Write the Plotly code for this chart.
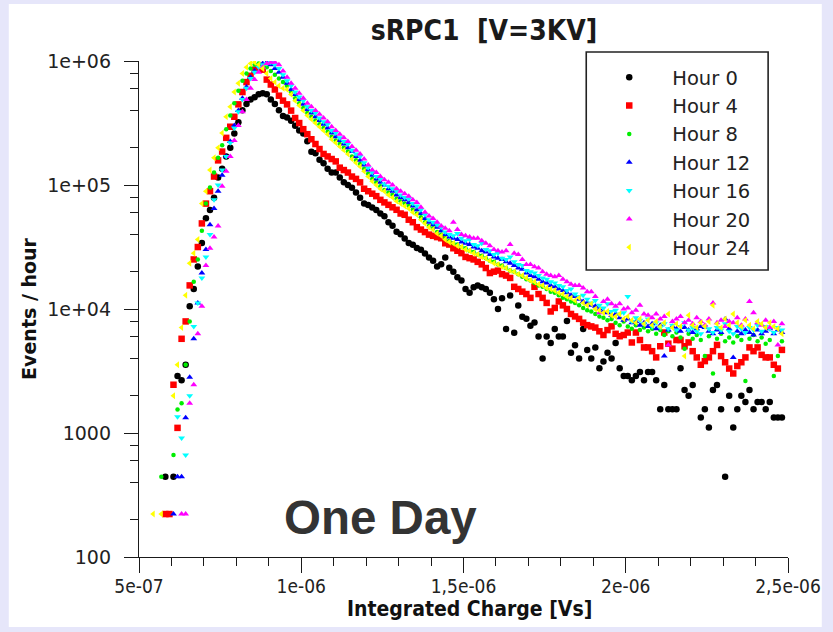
import plotly.graph_objects as go

# ---------------- data (histogram: 160 bins of 1.25e-8 Vs between 5e-7 and 2.5e-6) -------------
BIN_LOW = 5e-7
BIN_WIDTH = 1.25e-8
FIRST_BIN = 3   # first listed bin index

SERIES_NAMES = ["Hour 0", "Hour 4", "Hour 8", "Hour 12", "Hour 16", "Hour 20", "Hour 24"]

HOUR_0 = [
    None, None, None, 444, None, 444, 2886, 2664, 3552, 10500,
    14500, 22000, 34000, 54000, 63000, 79000, 115000, 135000, 170000, 200000,
    260000, 320000, 400000, 450000, 490000, 510000, 540000, 550000, 540000, 490000,
    450000, 400000, 360000, 350000, 330000, 300000, 275000, 260000, 225000, 185000,
    180000, 160000, 150000, 135000, 126000, 126000, 115000, 105000, 100000, 95000,
    87000, 79000, 71000, 69000, 66000, 63000, 59000, 56000, 50000, 47000,
    42000, 40000, 37000, 34000, 33000, 31000, 30000, 28000, 26000, 24500,
    22000, 23000, 26000, 21500, 20000, 18000, 17000, 14500, 13500, 15000,
    15500, 15000, 14500, 13500, 12000, 9990, 12210, 6882, 12876, 6438,
    10656, 8658, 8325, 7326, 7770, 5994, 3996, 5994, 5328, 6882,
    5994, 5994, 7992, 4440, 5106, 3996, 6882, 4662, 3996, 4884,
    3330, 3774, 4440, 3996, 5328, 3330, 2886, 2886, 2664, 2886,
    3108, 2664, 3108, 3108, 2664, 1554, 2442, 1554, 1554, 1554,
    3330, 2220, 1998, 2442, None, 1332, 1554, 1110, 2220, 2442,
    1554, 444, 1998, 1110, 1554, 1998, 1776, 2220, 1554, 1776,
    1776, 1554, 1776, 1332, 1332, 1332,
]

HOUR_4 = [
    None, None, None, 222, 222, 2450, 1100, 5750, 7940, 15500,
    25100, 31600, 49000, 70800, 89100, 117000, 158000, 186000, 240000, 295000,
    355000, 447000, 562000, 676000, 759000, 851000, 871000, 851000, 708000, 646000,
    589000, 525000, 479000, 447000, 398000, 347000, 316000, 282000, 257000, 234000,
    214000, 195000, 178000, 170000, 162000, 155000, 138000, 132000, 126000, 117000,
    112000, 105000, 93300, 89100, 85100, 81300, 75900, 72400, 69200, 66100,
    63100, 58900, 57500, 52500, 50100, 45700, 43700, 41700, 39800, 38900,
    38000, 37200, 33900, 33100, 30900, 29500, 28200, 26300, 25700, 25100,
    24000, 22900, 21400, 19500, 20000, 20400, 19100, 18600, 17800, 15100,
    14500, 13800, 13200, 12300, 15100, 13200, 12300, 11200, 9550, 10200,
    11500, 10700, 10000, 9120, 8710, 8320, 7760, 7410, 7240, 7080,
    6610, 6170, 6760, 7240, 6310, 6030, 6170, 6460, 5370, 6460,
    5620, 4900, 4900, 4570, 4070, 5010, 6460, 5250, 4790, 5620,
    5620, 5010, 5370, 4570, 4070, 3550, 3800, 4070, 4570, 5130,
    4170, 3720, 3310, 3020, 3470, 3720, 4070, 4900, 4570, 4900,
    4270, 4070, 4070, 3550, 3310, 4680,
]

HOUR_8 = [
    None, None, 444, None, None, 666, 1550, 1740, 3550, 7940,
    16600, 25100, 42700, 70800, 95500, 126000, 166000, 209000, 282000, 363000,
    457000, 575000, 692000, 794000, 871000, 933000, 955000, 933000, 891000, 832000,
    776000, 724000, 676000, 631000, 562000, 501000, 457000, 417000, 380000, 355000,
    331000, 309000, 288000, 269000, 245000, 229000, 214000, 200000, 186000, 170000,
    158000, 148000, 135000, 123000, 112000, 105000, 97700, 91200, 87100, 83200,
    77600, 74100, 70800, 67600, 63100, 58900, 55000, 50100, 46800, 44700,
    41700, 39800, 37200, 35500, 33900, 33100, 31600, 30900, 29500, 28800,
    27500, 26900, 25700, 24500, 24000, 22900, 22400, 21400, 20400, 20000,
    19100, 18200, 17400, 17000, 16200, 15500, 15100, 14500, 13800, 13500,
    12900, 12300, 12000, 11500, 11200, 10700, 10200, 9770, 9550, 9120,
    8710, 8510, 8130, 8320, 7760, 7410, 7940, 7240, 6920, 7410,
    6760, 7080, 6610, 6920, 6310, 6760, 6170, 6610, 6030, 6460,
    5890, 4790, 6310, 5750, 6170, 5620, 4170, 6030, 3020, 5750,
    6310, 5500, 5890, 5370, 6030, 5620, 2630, 5750, 6170, 5500,
    5890, 5250, 5620, 2880, 4170, 5500,
]

HOUR_12 = [
    None, None, None, None, None, 222, 444, 444, 1330, 2820,
    5750, 11200, 19500, 30200, 47900, 64600, 89100, 120000, 170000, 224000,
    302000, 398000, 501000, 617000, 741000, 832000, 912000, 955000, 977000, 933000,
    871000, 813000, 741000, 661000, 589000, 537000, 490000, 447000, 407000, 380000,
    355000, 331000, 309000, 288000, 263000, 245000, 229000, 214000, 200000, 186000,
    170000, 158000, 145000, 132000, 120000, 112000, 105000, 100000, 93300, 89100,
    83200, 79400, 75900, 72400, 67600, 63100, 58900, 53700, 50100, 47900,
    45700, 42700, 39800, 38000, 37200, 36300, 34700, 33900, 33100, 31600,
    30900, 29500, 28800, 27500, 26300, 25700, 25100, 24000, 23400, 22400,
    21400, 20900, 19500, 18600, 18200, 17400, 16600, 16200, 15500, 15100,
    14500, 14100, 13500, 12900, 12600, 12000, 11500, 11200, 10700, 10500,
    10000, 9550, 9330, 8910, 9120, 8510, 8130, 8320, 7760, 7940,
    7410, 7760, 7240, 7590, 6920, 7410, 4170, 6760, 7240, 6920,
    6610, 7080, 6760, 6460, 6920, 7240, 7080, 6610, 6310, 6760,
    6460, 8320, 6920, 4070, 6610, 6310, 6760, 6460, 6170, 6760,
    6310, 6610, 6920, 6310, 6760, 6460,
]

HOUR_16 = [
    None, None, None, None, None, None, 1350, 910, 666, 2000,
    7240, 11200, 17800, 26300, 39800, 75900, 100000, 132000, 170000, 219000,
    288000, 389000, 490000, 603000, 724000, 813000, 891000, 933000, 955000, 977000,
    933000, 871000, 776000, 692000, 631000, 562000, 513000, 479000, 427000, 398000,
    380000, 347000, 324000, 309000, 275000, 263000, 240000, 224000, 214000, 191000,
    178000, 170000, 151000, 138000, 126000, 117000, 112000, 102000, 97700, 93300,
    89100, 83200, 79400, 77600, 70800, 67600, 63100, 57500, 52500, 50100,
    47900, 45700, 41700, 39800, 38900, 40700, 37200, 35500, 36300, 33100,
    32400, 33900, 30200, 29500, 27500, 28200, 25700, 25100, 26300, 24000,
    22900, 22400, 20400, 20000, 19500, 18600, 17800, 17400, 16600, 16200,
    15500, 15100, 14100, 14500, 13200, 12600, 12900, 12000, 11200, 11700,
    10700, 10200, 11000, 9550, 9770, 9120, 9330, 12600, 7940, 8510,
    8130, 7590, 8320, 7240, 7760, 7080, 7590, 6920, 7410, 6760,
    7240, 7760, 6760, 7080, 6610, 6310, 7240, 6920, 6460, 7080,
    6760, 7590, 6610, 6310, 7240, 6920, 6460, 7080, 6760, 7410,
    6610, 7240, 6920, 6460, 7080, 6760,
]

HOUR_20 = [
    None, None, None, None, None, None, None, 222, 222, 1740,
    2450, 6310, 10500, 22400, 30900, 38000, 46800, 97700, 129000, 170000,
    229000, 302000, 389000, 490000, 603000, 708000, 813000, 891000, 955000, 977000,
    977000, 933000, 832000, 741000, 661000, 603000, 550000, 501000, 457000, 427000,
    398000, 372000, 347000, 324000, 295000, 275000, 257000, 240000, 224000, 204000,
    191000, 178000, 162000, 145000, 132000, 126000, 117000, 110000, 105000, 100000,
    93300, 89100, 85100, 81300, 75900, 72400, 66100, 60300, 56200, 53700,
    50100, 46800, 44700, 42700, 50100, 43700, 39800, 38900, 38000, 37200,
    37200, 35500, 33900, 32400, 30200, 29500, 28800, 29500, 33100, 28200,
    27500, 25100, 22900, 22900, 21900, 21400, 20000, 19100, 18600, 18200,
    18600, 17400, 16600, 15800, 15500, 15500, 14800, 13800, 13800, 12600,
    9330, 11500, 12000, 11000, 10500, 11000, 10000, 10200, 9330, 9770,
    10700, 9120, 8910, 8510, 9120, 8320, 8710, 5130, 7940, 8320,
    8710, 7760, 8130, 7590, 8510, 7940, 7410, 8320, 11200, 7760,
    8130, 7240, 7940, 7760, 8510, 7410, 8320, 11500, 9330, 7760,
    7410, 8130, 7080, 7940, 5130, 7590,
]

HOUR_24 = [
    222, None, 222, None, None, 2000, 3550, 7080, 12900, 23400,
    28200, 36300, 70800, 89100, 132000, 166000, 200000, 263000, 355000, 427000,
    562000, 661000, 794000, 891000, 955000, 977000, 933000, 871000, 794000, 724000,
    676000, 631000, 603000, 589000, 537000, 479000, 437000, 398000, 363000, 339000,
    316000, 295000, 275000, 257000, 234000, 219000, 204000, 191000, 178000, 162000,
    151000, 141000, 129000, 117000, 107000, 100000, 93300, 89100, 83200, 79400,
    74100, 70800, 67600, 64600, 60300, 57500, 52500, 49000, 45700, 43700,
    40700, 38900, 36300, 34700, 33900, 32400, 31600, 30200, 29500, 28200,
    27500, 26300, 25700, 24500, 23400, 22900, 21900, 21400, 20400, 20000,
    19100, 18600, 17800, 17000, 16600, 15800, 15500, 14800, 14500, 14100,
    13500, 13200, 12600, 12300, 11700, 12300, 11200, 10700, 11000, 10000,
    9770, 9330, 9550, 8910, 8710, 9120, 8320, 8710, 8130, 7760,
    8320, 7590, 8130, 7410, 7940, 7240, 7760, 9120, 7080, 7590,
    7240, 4170, 8910, 7410, 7080, 7760, 7240, 7940, 10700, 7590,
    7080, 8320, 7410, 9120, 7760, 7240, 8130, 7410, 6920, 7940,
    7590, 7080, 7760, 7240, 6920, 6310,
]

SERIES_VALUES = [HOUR_0, HOUR_4, HOUR_8, HOUR_12, HOUR_16, HOUR_20, HOUR_24]

X_TICK_VALUES = [5e-7, 1e-6, 1.5e-6, 2e-6, 2.5e-6]
X_TICK_LABELS = ["5e-07", "1e-06", "1,5e-06", "2e-06", "2,5e-06"]
Y_TICK_VALUES = [100, 1000, 1e4, 1e5, 1e6]
Y_TICK_LABELS = ["100", "1000", "1e+04", "1e+05", "1e+06"]

# ---------------- styles ----------------
COLORS = ["#000000", "#ff0000", "#00ee00", "#0000ff", "#00ffff", "#ff00ff", "#ffff00"]
SYMBOLS = ["circle", "square", "circle", "triangle-up", "triangle-down", "triangle-up", "triangle-left"]
SIZES = [6.5, 6.5, 4.5, 6, 6, 6, 6]

W, H = 833, 632
ML, MR, MT, MB = 139, 41, 61, 75
PW, PH = W - ML - MR, H - MT - MB


def px_x(p):
    return (p - ML) / PW


def px_y(p):
    return (H - MB - p) / PH


fig = go.Figure()
for name, vals, col, sym, size in zip(SERIES_NAMES, SERIES_VALUES, COLORS, SYMBOLS, SIZES):
    xs = [BIN_LOW + (FIRST_BIN + i + 0.5) * BIN_WIDTH for i in range(len(vals))]
    fig.add_trace(go.Scatter(
        x=xs, y=vals, mode="markers", name=name, legendgroup=name,
        marker=dict(symbol=sym, size=size, color=col, line=dict(width=0)),
    ))

x_minor = [v * 1e-7 for v in range(6, 25) if v % 5 != 0]
y_minor = [m * 10 ** d for d in range(2, 6) for m in (2, 4, 6, 8)]

AX_COLOR = "#1a1a1a"
fig.update_layout(
    width=W, height=H,
    margin=dict(l=ML, r=MR, t=MT, b=MB),
    paper_bgcolor="#e6e6fa",
    plot_bgcolor="white",
    showlegend=True,
    title=dict(
        text="sRPC1\u00a0 [V=3KV]",
        x=484 / W, xanchor="center", xref="container",
        y=1 - 30 / H, yanchor="middle", yref="container",
        font=dict(family="DejaVu Sans Condensed", size=28, color="#1a1a1a", weight="bold"),
    ),
    xaxis=dict(
        type="linear", range=[5e-7, 2.5e-6],
        tickmode="array", tickvals=X_TICK_VALUES, ticktext=X_TICK_LABELS,
        ticks="outside", ticklen=15, tickwidth=1.3, tickcolor=AX_COLOR,
        showline=True, linecolor=AX_COLOR, linewidth=1.3,
        showgrid=False, zeroline=False,
        ticklabelstandoff=-3,
        tickfont=dict(family="DejaVu Sans Condensed", size=19, color="#222"),
        minor=dict(tickmode="array", tickvals=x_minor, ticks="outside", ticklen=8,
                   tickwidth=1.3, tickcolor=AX_COLOR, showgrid=False),
    ),
    yaxis=dict(
        type="log", range=[2, 6],
        tickmode="array", tickvals=Y_TICK_VALUES, ticktext=Y_TICK_LABELS,
        ticks="outside", ticklen=14, tickwidth=1.3, tickcolor=AX_COLOR,
        showline=True, linecolor=AX_COLOR, linewidth=1.3,
        showgrid=False, zeroline=False,
        ticklabelstandoff=9,
        tickfont=dict(family="DejaVu Sans", size=19, color="#222"),
        minor=dict(tickmode="array", tickvals=y_minor, ticks="outside", ticklen=8,
                   tickwidth=1.3, tickcolor=AX_COLOR, showgrid=False),
        title=dict(text="Events / hour", standoff=5,
                   font=dict(family="DejaVu Sans", size=19, color="#111", weight="bold")),
    ),
    legend=dict(
        x=px_x(589), xanchor="left", y=px_y(58), yanchor="top",
        bgcolor="rgba(0,0,0,0)", borderwidth=0,
        font=dict(family="DejaVu Sans", size=19.5, color="#222"),
        itemwidth=76, tracegroupgap=0,
    ),
    shapes=[
        dict(type="rect", xref="paper", yref="paper", layer="below",
             x0=px_x(8), x1=px_x(826), y0=px_y(627), y1=px_y(4),
             fillcolor="white", line=dict(width=0)),
        dict(type="rect", xref="paper", yref="paper", layer="above",
             x0=px_x(589), x1=px_x(772), y0=px_y(270), y1=px_y(52),
             fillcolor="rgba(0,0,0,0)", line=dict(color="#222", width=1.6)),
    ],
    annotations=[
        dict(text="Integrated Charge [Vs]", xref="paper", yref="paper",
             x=px_x(472), y=px_y(609), xanchor="center", yanchor="middle", showarrow=False,
             font=dict(family="DejaVu Sans Condensed", size=21, color="#111", weight="bold")),
        dict(text="One Day", xref="paper", yref="paper", x=px_x(382), y=px_y(517),
             xanchor="center", yanchor="middle", showarrow=False,
             font=dict(family="Liberation Sans", size=47.5, color="#333333", weight="bold")),
    ],
)

fig.write_html("out.html")
